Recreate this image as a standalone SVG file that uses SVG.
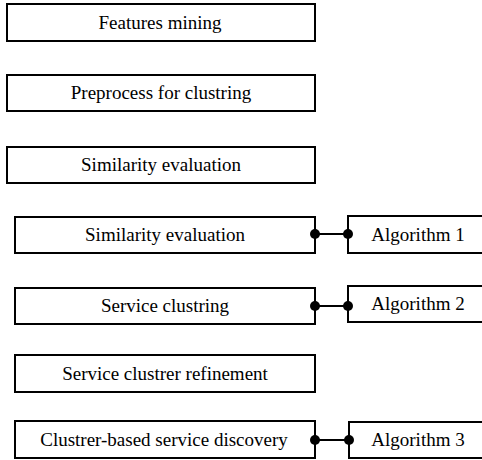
<svg xmlns="http://www.w3.org/2000/svg" width="482" height="460" viewBox="0 0 482 460">
<style>
rect{fill:#fff;stroke:#000;stroke-width:2}
text{font-family:"Liberation Serif","Times New Roman",Times,serif;font-size:19px;fill:#000;text-anchor:middle}
.conn line{stroke:#000;stroke-width:2}
.conn circle{fill:#000}
</style>
<rect x="0" y="0" width="482" height="460" style="fill:#fff;stroke:none"/>
<g id="n1"><rect x="7" y="4" width="308" height="37"/><text x="160" y="29">Features mining</text></g>
<g id="n2"><rect x="7" y="75" width="308" height="36"/><text x="161" y="99">Preprocess for clustring</text></g>
<g id="n3"><rect x="7" y="147" width="308" height="36"/><text x="161" y="171">Similarity evaluation</text></g>
<g id="n4"><rect x="15" y="217" width="300" height="36"/><text x="165" y="241">Similarity evaluation</text></g>
<g id="n5"><rect x="15" y="288" width="300" height="36"/><text x="165" y="312">Service clustring</text></g>
<g id="n6"><rect x="15" y="355" width="300" height="37"/><text x="165" y="380">Service clustrer refinement</text></g>
<g id="n7"><rect x="15" y="421" width="300" height="37"/><text x="164" y="446">Clustrer-based service discovery</text></g>
<g id="a1"><rect x="348" y="216" width="140" height="37"/><text x="418" y="241">Algorithm 1</text></g>
<g id="a2"><rect x="348" y="286" width="140" height="36"/><text x="418" y="310">Algorithm 2</text></g>
<g id="a3"><rect x="349" y="422" width="140" height="36"/><text x="418" y="446">Algorithm 3</text></g>
<g class="conn" id="connectors">
<line x1="315" y1="234" x2="348" y2="234"/><circle cx="315" cy="234" r="5"/><circle cx="348" cy="234" r="5"/>
<line x1="315" y1="306" x2="348" y2="306"/><circle cx="315" cy="306" r="5"/><circle cx="348" cy="306" r="5"/>
<line x1="315" y1="440" x2="349" y2="440"/><circle cx="315" cy="440" r="5"/><circle cx="349" cy="440" r="5"/>
</g>
</svg>
